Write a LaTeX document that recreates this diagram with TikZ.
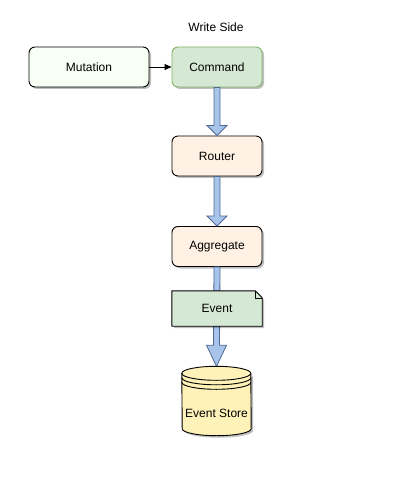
\documentclass[tikz,border=0pt]{standalone}
\usepackage{fontspec}
\setmainfont{Liberation Sans}
\usetikzlibrary{calc,shadows,arrows.meta}
\definecolor{mutfill}{HTML}{F8FFF5}
\definecolor{cmdfill}{HTML}{D5E8D4}
\definecolor{cmdline}{HTML}{82B366}
\definecolor{orfill}{HTML}{FFF2E5}
\definecolor{storefill}{HTML}{FFF2B8}
\definecolor{arrfill}{HTML}{A9C4EB}
\definecolor{arrline}{HTML}{4D6A94}
\tikzset{
  every node/.style={font=\fontsize{12}{14}\selectfont},
  shd/.style={drop shadow={shadow xshift=2pt,shadow yshift=-2pt,fill=black,opacity=.25}},
  box/.style={draw=black,rounded corners=6pt,minimum width=90pt,minimum height=40pt,line width=0.9pt,shd},
  ghost/.style={inner sep=0pt},
  barrow/.style={draw=arrline,fill=arrfill,line width=0.8pt,line join=miter},
}
\newcommand\blockarrow[3]{%
  \draw[barrow] ($(#1.south)+(-3,0)$) -- ($(#2.north)+(-3,-#3)$) -- ($(#2.north)+(-10,-#3)$) -- (#2.north) -- ($(#2.north)+(10,-#3)$) -- ($(#2.north)+(3,-#3)$) -- ($(#1.south)+(3,0)$) -- cycle;}
\begin{document}
\begin{tikzpicture}[x=1pt,y=-1pt]
\useasboundingbox[fill=white] (0,0) rectangle (411,486);
\node (title) at (216,27) {Write Side};
\node[box,fill=mutfill,minimum width=120pt] (mut) at (89,67) {Mutation};
\node[box,fill=cmdfill,draw=cmdline] (cmd) at (217,67) {Command};
\node[box,fill=orfill] (router) at (217,156) {Router};
\node[box,fill=orfill] (agg) at (217,246.5) {Aggregate};
\node[ghost,minimum width=69pt,minimum height=69pt] (store) at (216.5,401) {};
\draw[-{Triangle[length=7pt,width=6pt]},line width=0.8pt] (mut) -- (cmd);
\blockarrow{cmd}{router}{10}
\blockarrow{router}{agg}{10}
\blockarrow{agg}{store}{21}
% event note
\node[ghost,minimum width=90pt,minimum height=35pt] (event) at (217,308.5) {};
\fill[black,opacity=.25] ($(event.north west)+(2,2)$) -- ($(event.north east)+(-5,2)$) -- ($(event.north east)+(2,9)$) -- ($(event.south east)+(2,2)$) -- ($(event.south west)+(2,2)$) -- cycle;
\draw[fill=cmdfill,line width=0.9pt] (event.north west) -- ($(event.north east)+(-7,0)$) -- ($(event.north east)+(0,7)$) -- (event.south east) -- (event.south west) -- cycle;
\draw[line width=0.6pt] ($(event.north east)+(-7,0)$) -- ($(event.north east)+(-7,7)$) -- ($(event.north east)+(0,7)$);
\node at (event) {Event};
% event store cylinder
\fill[black,opacity=.25] ($(store.north west)+(2,9)$) arc[start angle=180,end angle=360,x radius=34.5,y radius=-7] -- ($(store.south east)+(2,-5)$) arc[start angle=0,end angle=-180,x radius=34.5,y radius=-7] -- cycle;
\draw[fill=storefill,line width=0.9pt] ($(store.north west)+(0,7)$) arc[start angle=180,end angle=0,x radius=34.5,y radius=-7] -- ($(store.south east)+(0,-7)$) arc[start angle=0,end angle=-180,x radius=34.5,y radius=-7] -- cycle;
\draw[line width=0.9pt] ($(store.north west)+(0,7)$) arc[start angle=180,end angle=360,x radius=34.5,y radius=-7];
\draw[line width=0.9pt] ($(store.north west)+(0,11.5)$) arc[start angle=180,end angle=360,x radius=34.5,y radius=-7];
\draw[line width=0.9pt] ($(store.north west)+(0,16)$) arc[start angle=180,end angle=360,x radius=34.5,y radius=-7];
\node at ($(store)+(0,12)$) {Event Store};
\end{tikzpicture}
\end{document}
